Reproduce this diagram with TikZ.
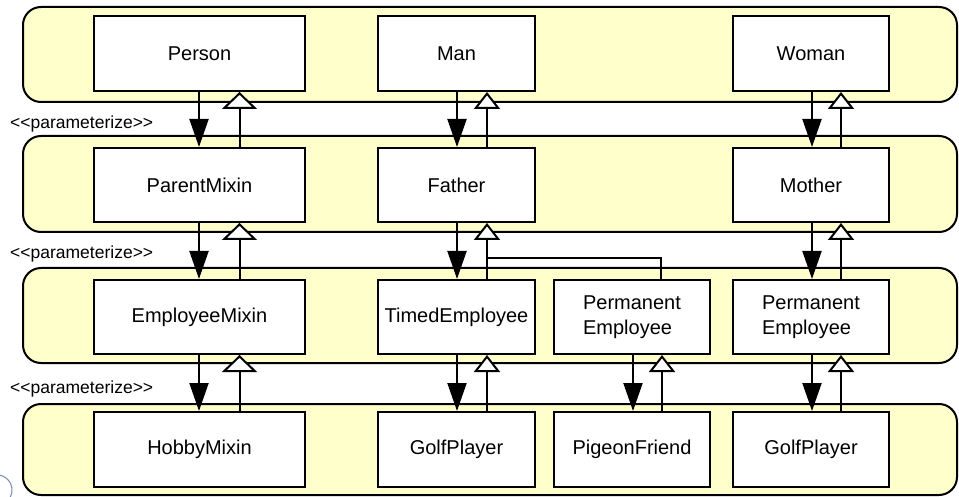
\documentclass[tikz,border=0pt]{standalone}
\usepackage{fontspec}
\setmainfont{Liberation Sans}
\usetikzlibrary{arrows.meta}
\definecolor{bandyellow}{RGB}{255,255,204}
\definecolor{logoblue}{RGB}{120,135,185}
\begin{document}
\begin{tikzpicture}[x=1pt,y=-1pt,
  band/.style={draw, line width=2pt, fill=bandyellow, rounded corners=18pt},
  cls/.style={draw, line width=2pt, fill=white, rectangle, inner sep=2pt,
    font=\fontsize{20}{25}\selectfont, align=left, minimum height=75pt},
  lbl/.style={inner sep=0pt, anchor=west, font=\fontsize{17.5}{21}\selectfont},
  dep/.style={line width=2pt, -{Triangle[width=19pt,length=28pt]}},
  gen/.style={line width=2pt, -{Triangle[open,fill=white,width=26pt,length=17pt]}},
  genw/.style={line width=2pt, -{Triangle[open,fill=white,width=35pt,length=17pt]}},
  conn/.style={line width=2pt}
]
\useasboundingbox (0,0) rectangle (959,497);
% bands
\draw[band] (23,7) rectangle (957,102);
\draw[band] (23,136) rectangle (957,232);
\draw[band] (23,268) rectangle (957,363);
\draw[band] (23,404) rectangle (957,495);
% logo fragment
\draw[logoblue, line width=1pt] (-3,490) circle[radius=15];
% row 1
\node[cls, minimum width=211pt] (person) at (199.5,53.5) {Person};
\node[cls, minimum width=157pt] (man) at (456.5,53.5) {Man};
\node[cls, minimum width=156pt] (woman) at (811,53.5) {Woman};
% row 2
\node[cls, minimum width=211pt, minimum height=74pt] (parent) at (199.5,185) {ParentMixin};
\node[cls, minimum width=157pt, minimum height=74pt] (father) at (456.5,185) {Father};
\node[cls, minimum width=156pt, minimum height=74pt] (mother) at (811,185) {Mother};
% row 3
\node[cls, minimum width=211pt, minimum height=74pt] (empmix) at (199.5,317) {EmployeeMixin};
\node[cls, minimum width=157pt, minimum height=74pt] (timed) at (456.5,317) {TimedEmployee};
\node[cls, minimum width=156pt, minimum height=74pt] (pe1) at (632,317) {Permanent\\Employee};
\node[cls, minimum width=156pt, minimum height=74pt] (pe2) at (811,317) {Permanent\\Employee};
% row 4
\node[cls, minimum width=211pt] (hobby) at (199.5,449.5) {HobbyMixin};
\node[cls, minimum width=157pt] (golf1) at (456.5,449.5) {GolfPlayer};
\node[cls, minimum width=156pt] (pigeon) at (632,449.5) {PigeonFriend};
\node[cls, minimum width=156pt] (golf2) at (811,449.5) {GolfPlayer};
% labels
\node[lbl] (l1) at (10,124) {<\kern0pt<parameterize>\kern0pt>};
\node[lbl] (l2) at (10,254) {<\kern0pt<parameterize>\kern0pt>};
\node[lbl] (l3) at (10,389) {<\kern0pt<parameterize>\kern0pt>};
% column 1
\draw[dep] ([xshift=-0.5pt]person.south) -- ([xshift=-0.5pt]parent.north);
\draw[genw] ([xshift=40pt]parent.north) -- ([xshift=40pt]person.south);
\draw[dep] ([xshift=-0.5pt]parent.south) -- ([xshift=-0.5pt]empmix.north);
\draw[genw] ([xshift=40pt]empmix.north) -- ([xshift=40pt]parent.south);
\draw[dep] ([xshift=-0.5pt]empmix.south) -- ([xshift=-0.5pt]hobby.north);
\draw[genw] ([xshift=40pt]hobby.north) -- ([xshift=40pt]empmix.south);
% column 2
\draw[dep] ([xshift=0.5pt]man.south) -- ([xshift=0.5pt]father.north);
\draw[gen] ([xshift=30.5pt]father.north) -- ([xshift=30.5pt]man.south);
\draw[dep] ([xshift=0.5pt]father.south) -- ([xshift=0.5pt]timed.north);
\draw[gen] ([xshift=30.5pt]timed.north) -- ([xshift=30.5pt]father.south);
\draw[dep] ([xshift=0.5pt]timed.south) -- ([xshift=0.5pt]golf1.north);
\draw[gen] ([xshift=30.5pt]golf1.north) -- ([xshift=30.5pt]timed.south);
% branch from pe1 to father generalization
\coordinate (br) at (487,258);
\draw[conn] ([xshift=29pt]pe1.north) |- (br);
% column 3
\draw[dep] ([xshift=1pt]pe1.south) -- ([xshift=1pt]pigeon.north);
\draw[gen] ([xshift=30pt]pigeon.north) -- ([xshift=30pt]pe1.south);
% column 4
\draw[dep] ([xshift=1pt]woman.south) -- ([xshift=1pt]mother.north);
\draw[gen] ([xshift=30pt]mother.north) -- ([xshift=30pt]woman.south);
\draw[dep] ([xshift=1pt]mother.south) -- ([xshift=1pt]pe2.north);
\draw[gen] ([xshift=30pt]pe2.north) -- ([xshift=30pt]mother.south);
\draw[dep] ([xshift=1pt]pe2.south) -- ([xshift=1pt]golf2.north);
\draw[gen] ([xshift=30pt]golf2.north) -- ([xshift=30pt]pe2.south);
\end{tikzpicture}
\end{document}
